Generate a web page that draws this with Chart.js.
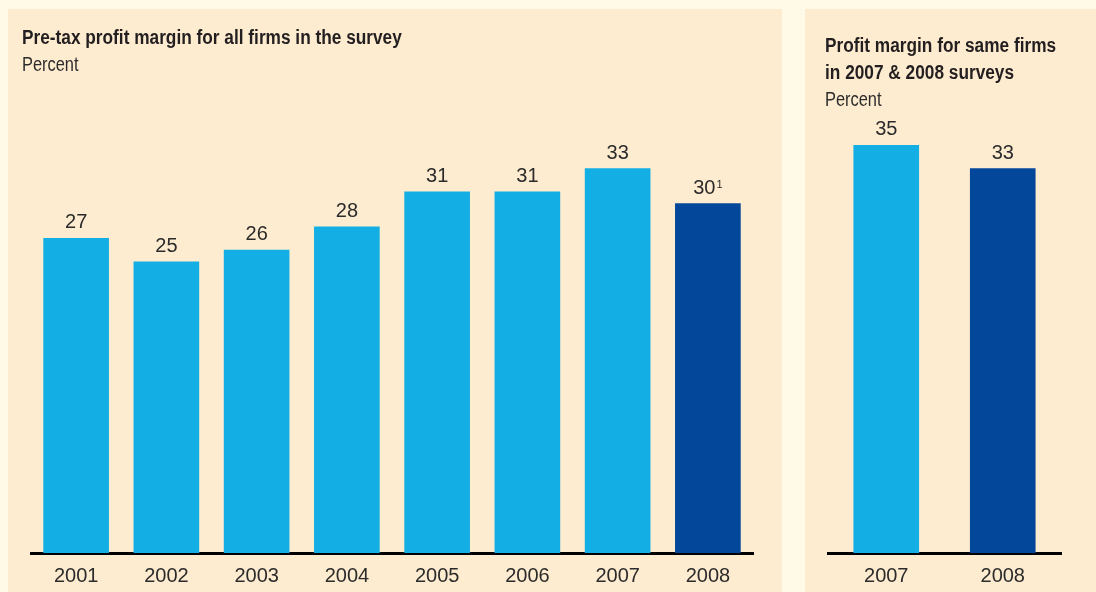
<!DOCTYPE html>
<html>
<head>
<meta charset="utf-8">
<script src="https://cdn.jsdelivr.net/npm/chart.js@4"></script>
<style>
    html, body { margin: 0; padding: 0; }
    body { width: 1096px; height: 592px; background: #fffae8; position: relative; overflow: hidden; font-family: "Liberation Sans Narrow", "Liberation Sans", sans-serif; color: #231f20; }
    .panel { position: absolute; top: 9px; height: 583px; background: #feecd0; }
    #left-panel { left: 8px; width: 774px; }
    #right-panel { left: 805px; width: 291px; }
    .panel canvas { position: absolute; left: 0; top: 0; }
    .title { position: absolute; font-weight: bold; font-size: 20px; line-height: 27px; white-space: nowrap; transform-origin: 0 0; transform: scaleX(0.863); }
    .unit { position: absolute; font-size: 20px; line-height: 27px; white-space: nowrap; color: #2b2b2b; transform-origin: 0 0; transform: scaleX(0.82); }
</style>
</head>
<body>
<div class="panel" id="left-panel">
    <canvas id="allFirmsChart" width="774" height="583"></canvas>
    <div class="title" style="left:14px; top:15px;">Pre-tax profit margin for all firms in the survey</div>
    <div class="unit" style="left:14px; top:42px;">Percent</div>
</div>
<div class="panel" id="right-panel">
    <canvas id="sameFirmsChart" width="291" height="583"></canvas>
    <div class="title" style="left:20px; top:23px;">Profit margin for same firms<br>in 2007 &amp; 2008 surveys</div>
    <div class="unit" style="left:20px; top:77px;">Percent</div>
</div>
<script>
// All firms, by survey year
const years = ['2001', '2002', '2003', '2004', '2005', '2006', '2007', '2008'];
const margins = [27, 25, 26, 28, 31, 31, 33, 30];
const footnotes = ['', '', '', '', '', '', '', '1'];

// Same firms in both surveys
const sameYears = ['2007', '2008'];
const sameMargins = [35, 33];

const LIGHT = '#13aee4';
const DARK = '#03479a';
const FONT = '"Liberation Sans Narrow", "Liberation Sans", sans-serif';

// Draws the value (plus optional superscript note) above each bar
const valueLabels = {
    id: 'valueLabels',
    afterDatasetsDraw(chart, args, opts) {
        const ctx = chart.ctx;
        const meta = chart.getDatasetMeta(0);
        const data = chart.data.datasets[0].data;
        const notes = opts.notes || [];
        ctx.save();
        ctx.fillStyle = '#2b2b2b';
        ctx.textBaseline = 'alphabetic';
        ctx.textAlign = 'left';
        meta.data.forEach((bar, i) => {
            const txt = String(data[i]);
            const note = notes[i] || '';
            ctx.font = '20px ' + FONT;
            const w = ctx.measureText(txt).width;
            ctx.font = '11px ' + FONT;
            const nw = note ? ctx.measureText(note).width + 1 : 0;
            const x0 = bar.x - (w + nw) / 2;
            const y = bar.y - 10;
            ctx.font = '20px ' + FONT;
            ctx.fillText(txt, x0, y);
            if (note) {
                ctx.font = '11px ' + FONT;
                ctx.fillText(note, x0 + w + 1, y - 6);
            }
        });
        ctx.restore();
    }
};

function makeChart(id, labels, values, notes, colors, pad) {
    return new Chart(document.getElementById(id).getContext('2d'), {
        type: 'bar',
        data: {
            labels: labels,
            datasets: [{
                data: values,
                backgroundColor: colors,
                barThickness: 65,
                borderWidth: 0
            }]
        },
        options: {
            responsive: false,
            animation: false,
            events: [],
            layout: { padding: pad },
            plugins: {
                legend: { display: false },
                tooltip: { enabled: false },
                valueLabels: { notes: notes }
            },
            scales: {
                y: { display: false, min: 0, max: 40 },
                x: {
                    grid: { display: false, drawTicks: false },
                    border: { display: true, color: '#000', width: 3 },
                    ticks: { color: '#2b2b2b', padding: 11, font: { family: FONT, size: 20 } },
                    afterFit: (scale) => { scale.height = 39; }
                }
            }
        },
        plugins: [valueLabels]
    });
}

makeChart('allFirmsChart', years, margins, footnotes,
    years.map((y, i) => i === years.length - 1 ? DARK : LIGHT),
    { left: 23, right: 29, top: 78, bottom: 0 });

makeChart('sameFirmsChart', sameYears, sameMargins, [],
    [LIGHT, DARK],
    { left: 23, right: 35, top: 78, bottom: 0 });
</script>
</body>
</html>
